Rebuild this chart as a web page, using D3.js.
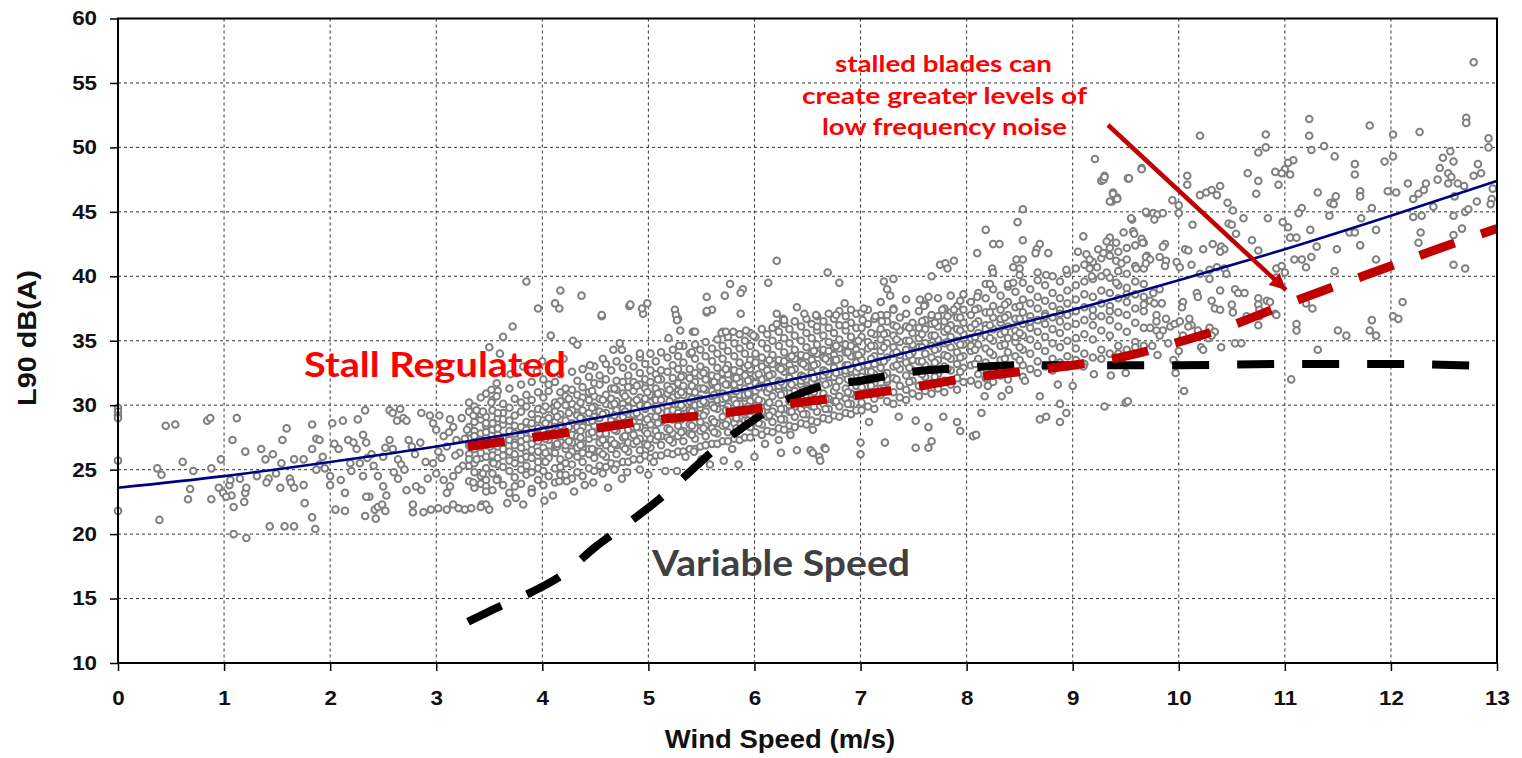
<!DOCTYPE html>
<html><head><meta charset="utf-8">
<script src="https://cdn.jsdelivr.net/npm/d3@7"></script>
<style>html,body{margin:0;padding:0;background:#fff;} svg{display:block;}</style>
</head><body>
<svg id="chart" width="1522" height="758"></svg>
<script>
// ---------- tick values ----------
const windTicks = [0,1,2,3,4,5,6,7,8,9,10,11,12,13];
const levelTicks = [10,15,20,25,30,35,40,45,50,55,60];

// ---------- trend line (solid navy) ----------
const trendWind  = [0,1,2,3,4,5,6,7,8,9,10,11,12,13];
const trendLevel = [23.6,24.5,25.6,26.8,28.2,29.8,31.4,33.2,35.3,37.4,39.7,42.1,44.7,47.4];

// ---------- stall regulated (red dashed) ----------
const stallWind  = [3.3,4,4.5,5,5.5,6,6.5,7,7.5,8,8.5,9,9.5,10,10.5,11,11.5,12,12.5,13];
const stallLevel = [26.8,27.6,28.2,28.8,29.2,29.7,30.3,30.8,31.4,32.1,32.6,33.1,33.8,34.9,36.2,37.8,39.3,40.8,42.3,43.7];

// ---------- variable speed (black dashed) ----------
const variableWind  = [3.3,3.6,3.9,4.2,4.5,4.8,5.1,5.4,5.7,6.0,6.3,6.6,7.0,7.5,8.0,8.5,9,10,11,12,13];
const variableLevel = [13.2,14.4,15.5,16.9,19.0,20.8,22.7,24.9,27.1,28.9,30.4,31.4,31.9,32.6,32.9,33.1,33.1,33.1,33.2,33.2,33.0];

// ---------- measured L90 points [wind speed, level] ----------
const lowWindPoints = [
[0,29.8],[0,29.5],[0,29.2],[0,29.0],[0,25.7],[0,21.8],
[0.45,28.4],[0.54,28.5],[0.37,25.1],[0.41,24.6],[0.39,21.1],[0.61,25.6],[0.66,22.7],[0.68,23.5],[0.71,24.9],[0.84,28.8],[0.87,29.0],[0.88,25.1],[0.88,22.7],[0.97,25.8],
[0.95,23.6],[0.99,23.2],[1.05,23.8],[1.07,23.0],[1.02,22.9],[1.06,24.2],[1.09,22.1],[1.09,20.0],[1.12,29.0],[1.08,27.3],[1.15,24.3],[1.19,22.5],[1.2,23.2],[1.2,26.4],[1.21,19.7],[1.21,23.6],
[1.31,24.5],[1.35,26.6],[1.39,25.8],[1.42,24.3],[1.4,24.0],[1.43,20.6],[1.46,26.2],[1.49,24.7],[1.53,23.6],[1.55,27.3],[1.54,25.5],[1.57,20.6],[1.59,28.2],[1.62,24.3],[1.63,24.0],[1.66,23.6],[1.66,20.6],[1.66,25.8],
[1.75,25.8],[1.76,22.4],[1.75,23.8],[1.83,28.5],[1.83,26.6],[1.83,21.3],[1.86,20.4],[1.87,27.4],[1.9,27.3],[1.9,25.4],[1.87,25.0],[1.93,26.0],[1.95,25.1],[2.0,23.8],[2.0,24.5],
[2.02,28.6],[2.04,27.0],[2.08,26.6],[2.1,24.2],[2.05,21.9],[2.14,21.8],[2.14,23.2],[2.12,28.8],[2.17,27.3],[2.19,25.5],[2.22,27.1],[2.26,28.9],[2.25,26.6],[2.28,25.5],[2.31,24.5],[2.33,29.6],
[2.31,27.7],[2.34,27.1],[2.39,26.2],[2.37,22.9],[2.34,22.9],[2.33,21.4],[2.42,21.9],[2.45,22.1],[2.43,21.2],[2.49,22.3],[2.52,21.8],[2.41,25.3],[2.45,24.5],[2.5,26.0],[2.52,26.7],[2.56,27.3],
[2.59,26.6],[2.64,25.8],[2.67,25.4],[2.5,23.7],[2.53,23.0],[2.64,24.3],[2.56,29.6],[2.59,29.4],[2.63,28.8],[2.66,29.7],[2.69,29.0],[2.72,28.8],[2.74,27.3],[2.77,26.8],[2.8,26.2],[2.85,27.1],
[2.78,22.3],[2.88,21.7],[2.78,21.7],[2.81,23.7],[2.86,23.4],[2.92,24.3],[2.86,29.4],[2.94,29.2],[2.7,25.0],[2.6,24.8],[2.35,25.9],[2.2,24.9],[2.72,23.4],[2.9,25.6],
[2.97,28.6],[3.0,28.1],[3.03,29.2],[3.07,27.6],[3.1,26.8],[3.13,28.9],[3.16,28.3],[3.19,27.3],[3.22,26.3],[3.25,25.3],[2.97,25.5],[3.0,24.7],[3.07,24.2],[3.1,23.2],[3.13,23.7],[3.16,24.5],
[3.21,25.0],[3.29,28.1],[3.32,26.8],[3.35,29.2],[3.38,25.8],[3.41,27.3],[3.44,24.7],[3.47,23.7],[3.47,28.6],[3.51,26.8],[3.54,25.5],[3.57,24.2],[3.58,29.4],[3.1,21.9],[3.21,22.0],[3.27,21.9],
[3.16,22.3],[3.35,24.0],[3.43,22.3],[3.47,22.3],[3.47,23.3],[3.02,26.4],[3.05,25.9],[3.12,27.9],[3.18,26.1],[3.24,29.0],[3.27,27.4],[3.38,29.6],[3.44,29.5],[3.52,31.2],[3.57,31.7],[3.52,30.2],
[3.57,30.7],[3.33,22.0],[3.42,22.1],[3.5,21.9],[3.67,22.4],[2.95,21.9],[3.02,22.0]
];

const midWindPoints = [
[3.85,39.6],[4.17,38.9],[4.37,38.5],[3.96,37.5],[4.12,37.9],[4.16,37.5],[4.56,36.9],[4.82,37.7],[4.95,37.1],[4.99,37.9],[4.94,37.5],[3.72,36.1],[3.63,35.3],[3.5,34.5],[3.6,34.0],
[6.21,41.2],[6.13,39.5],[5.77,39.4],[5.89,39.0],[5.87,38.7],[5.72,38.5],[5.55,38.4],[5.25,37.4],[5.28,36.7],[5.3,35.8],[5.26,37.0],[5.55,37.2],[5.6,37.4],[5.87,37.1],[6.21,37.1],[6.27,36.7],
[6.21,36.3],[5.42,35.7],[5.7,35.7],[5.8,35.7],[5.92,35.8],[5.99,35.4],[5.19,35.2],[5.29,34.6],[5.41,34.1],[4.29,35.0],[4.33,34.7],[4.08,35.4],[4.73,34.8],[4.67,34.3],[4.75,34.3],[4.57,33.6],
[4.92,34.0],[4.45,33.1],[3.7,32.4],[3.82,33.0],[4.0,33.4],[4.2,33.6],[3.95,32.6],
[4.16,24.1],[4.23,24.1],[4.4,23.8],[4.57,24.7],[4.75,24.3],[4.8,24.8],[4.92,25.0],[5.05,25.6],[5.16,24.9],[5.27,24.9],[5.35,26.0],[5.43,26.4],[5.58,25.4],[5.71,25.7],[5.85,25.4],[5.79,26.6],
[6.25,26.3],[6.4,26.5],[6.53,26.5],[6.66,26.7],[6.61,26.0],[6.23,27.3],[6.34,27.7],[4.83,37.8],[4.56,37.0],[5.27,36.6],[5.44,35.7],[5.55,37.3],[5.69,35.6],[5.73,35.7],[6.28,36.6],[6.4,37.6],
[6.47,37.1],[6.58,37.0],[6.77,37.0],[6.85,37.9],[6.86,36.2],[6.59,36.1],[6.69,40.3],[6.8,39.5],
[3.75,22.8],[3.9,23.2],[4.02,22.6],[4.1,23.0],[3.82,22.3],[4.3,23.3],[4.48,24.0],[4.62,23.6],[4.68,25.0],[5.0,24.6],[5.5,25.8],[6.0,26.0],[6.1,27.0]
];

const highWindPoints = [
[6.55,28.1],[6.55,26.3],[6.67,26.6],[6.62,25.7],[7.0,27.1],[7.0,26.2],[7.23,27.1],[7.08,28.7],[7.36,29.1],[7.52,28.8],[7.64,28.3],[7.52,26.7],[7.64,26.7],[7.67,27.2],[7.78,29.1],[7.91,28.7],
[7.94,28.0],[8.06,27.6],[8.09,27.7],[8.14,29.4],[8.17,30.7],[8.33,30.7],[8.69,30.7],[8.88,30.1],[8.75,29.1],[8.69,28.9],[8.94,29.4],[8.88,28.7],[8.86,31.6],[9.0,31.5],[9.3,29.9],[9.5,30.2],
[9.52,30.3],[9.36,32.3],[9.5,32.5],[9.97,32.5],[10.05,31.1],[8.4,31.2],[8.55,31.9],[8.2,31.5],[9.2,32.4],[9.1,33.0],
[8.67,40.3],[8.75,40.1],[8.94,40.5],
[8.53,45.2],[8.48,44.2],[8.18,43.6],[8.53,42.8],[8.25,42.5],[8.31,42.5],[8.69,42.5],[8.66,42.1],[8.77,41.8],[8.65,41.8],[8.1,41.8],[8.47,41.3],[8.53,41.3],[8.24,40.6],[8.25,40.3],[8.44,40.7],
[8.5,40.6],[8.5,40.1],[7.75,40.9],[7.8,41.0],[7.88,41.2],[7.82,40.6],[7.67,40.0],[7.22,39.6],[7.31,39.8],[7.25,39.0],[7.28,38.5],[7.03,37.5],[7.02,36.6],[7.14,36.9],[7.2,36.5],[7.25,37.0],
[7.31,37.4],[7.56,38.2],[7.64,38.4],[7.6,37.7],[7.77,37.4],[7.88,37.4],[7.94,38.1],[8.18,39.4],[8.22,39.4],[8.1,38.4],[8.39,39.4],[8.44,39.5],[9.21,49.1],[9.27,47.4],[9.3,47.8],[9.52,47.6],
[9.65,48.4],[9.38,46.5],[9.42,46.1],[9.37,45.8],[9.7,44.9],[9.56,44.4],[9.1,43.1],[9.35,43.0],[9.32,42.7],[9.41,42.6],[9.48,43.4],[9.57,43.5],[9.35,42.2],[9.05,41.9],[9.13,41.7],[9.16,41.3],
[9.24,42.1],[9.29,41.8],[9.41,41.2],[9.46,41.0],[9.51,41.3],[9.6,40.6],[9.7,41.6],[9.16,40.6],[9.23,40.7],[9.18,40.0],[9.32,40.3],[9.41,39.5],[9.75,34.6],[9.8,33.9],[9.9,34.8],[9.95,33.5],[10.0,34.2]
];

const topWindPoints = [
[12.78,56.6],[11.23,52.2],[11.23,50.9],[11.25,49.8],[11.8,51.7],[12.02,51.0],[12.27,51.2],[12.71,52.3],[12.71,51.9],[12.92,50.7],[10.2,50.9],[10.82,51.0],[10.82,50.0],[10.75,49.6],[11.37,50.1],[11.47,49.3],
[11.94,48.9],[12.02,49.3],[12.49,49.2],[12.56,49.7],[12.59,48.9],[12.46,48.4],[12.44,47.5],[12.54,48.0],[12.57,47.7],[12.54,47.2],[12.63,47.2],[12.78,47.8],[11.66,48.7],[11.66,47.9],[11.08,49.0],[11.03,48.8],
[11.0,48.3],[11.05,47.9],[10.97,48.0],[10.91,48.1],[10.94,47.1],[10.75,47.4],[10.65,48.0],[10.73,46.4],[10.08,47.8],[10.08,47.1],[9.65,48.3],[9.53,47.6],[9.29,47.5],[9.3,47.7],[9.38,46.4],[9.42,46.0],
[9.35,45.8],[10.2,46.3],[10.26,46.5],[10.31,46.7],[10.39,47.0],[10.36,46.3],[10.46,45.7],[10.51,45.1],[9.94,45.9],[10.0,45.5],[10.0,44.9],[11.31,46.5],[11.43,45.7],[11.48,46.2],[11.46,45.6],[11.71,46.6],
[11.71,46.2],[11.97,46.6],[12.05,46.5],[12.16,47.2],[12.21,46.0],[12.26,46.4],[12.31,46.7],[12.33,47.2],[12.81,45.8],[12.95,46.0],[11.16,45.3],[11.13,44.9],[11.42,44.7],[11.82,45.3],[12.21,44.6],[12.29,44.7],
[12.4,45.4],[12.59,44.7],[12.7,45.0],[11.86,43.6],[12.28,43.4],[12.26,42.6],[12.59,43.2],[12.67,43.7],[12.59,40.9],[12.7,40.6],[11.72,44.5],[11.61,43.4],[11.66,43.4],[11.49,42.1],[11.71,42.4],[11.86,41.3],
[11.47,40.4],[11.24,43.6],[11.3,42.3],[11.25,41.5],[11.16,41.3],[11.09,41.3],[11.2,40.7],[11.05,43.0],[11.11,43.0],[10.98,44.2],[11.03,43.8],[10.84,44.5],[10.61,44.5],[10.75,42.0],[10.69,42.8],[10.54,43.3],
[10.47,44.1],[10.5,44.0],[10.4,42.3],[10.43,42.1],[10.32,42.5],[10.39,41.9],[10.23,42.1],[10.13,44.0],[9.87,42.5],[9.85,42.3],[10.06,42.1],[10.09,42.0],[9.76,44.9],[9.8,44.8],[9.69,45.0],[9.85,44.9],
[9.77,44.4],[9.55,44.5],[9.58,43.3],[9.65,42.9],[9.66,42.6],[9.69,41.5],[9.73,41.3],[9.69,41.0],[9.82,41.5],[9.88,41.2],[9.87,40.8],[9.98,41.1],[10.01,40.7],[10.12,40.9],[10.2,40.2],[10.29,40.5],
[10.36,40.7],[10.43,40.6],[10.45,40.2],[10.92,40.6],[10.97,40.8],[11.0,40.3],[10.92,39.9],[12.6,46.2],[12.69,47.0],[12.73,45.2],[12.82,48.7],[12.85,48.0],[12.92,50.0],[12.96,46.8],[12.94,45.6],
[9.82,39.0],[9.76,38.7],[9.73,38.1],[9.77,37.9],[9.84,37.9],[9.79,37.0],[9.79,36.5],[9.73,36.0],[9.88,36.7],[9.92,36.1],[9.96,36.3],[9.85,35.8],[9.79,35.8],[9.82,35.4],[10.04,38.0],[10.03,37.6],
[10.01,36.5],[10.1,36.7],[10.12,36.2],[10.18,35.8],[10.09,36.1],[10.04,35.4],[10.17,38.7],[10.18,38.4],[10.29,39.8],[10.39,38.9],[10.31,38.1],[10.34,37.5],[10.39,37.4],[10.5,37.8],[10.51,37.2],[10.53,39.0],
[10.56,38.7],[10.62,38.7],[10.64,36.9],[10.75,38.3],[10.75,37.8],[10.76,37.4],[10.83,38.1],[10.86,38.0],[10.75,36.2],[10.76,36.9],[10.91,37.1],[10.92,37.0],[11.2,37.9],[11.26,37.5],[11.11,36.3],[11.11,35.8],
[10.21,34.5],[10.23,34.3],[10.4,34.5],[10.53,34.8],[10.59,34.8],[10.29,36.0],[10.34,35.7],[10.28,35.2],[10.31,35.4],[11.31,34.3],[11.5,35.8],[11.58,35.4],[11.8,35.8],[11.86,35.4],[11.82,36.6],[12.02,36.9],
[12.07,36.7],[12.11,38.0],[11.06,32.0]
];

// dense core: each column = [wind speed, level, level, ...]
const coreColumns = [
[3.31,24.1,25.3,26.2,26.9,27.4,28.3,29.5,30.2,25.8,27.9],
[3.36,23.6,24.8,26.6,27.1,28.0,28.7,29.9,25.5,27.6],
[3.42,24.5,25.9,26.3,27.2,27.8,28.9,30.6,23.9,26.8,29.3],
[3.47,25.1,26.0,26.9,27.5,28.4,29.1,24.2,30.9,27.9],
[3.53,23.4,24.7,25.6,26.5,27.3,28.1,28.6,29.6,30.4,26.1],
[3.58,24.3,25.4,26.8,27.7,28.2,29.0,31.1,25.9,27.1],
[3.63,23.8,25.2,26.1,27.0,27.5,28.5,29.4,30.1,26.6,28.9],
[3.69,24.9,25.7,26.4,27.3,28.0,28.8,29.8,31.3,23.2],
[3.74,24.4,25.5,26.2,27.1,27.8,28.4,29.2,30.5,26.9,23.7],
[3.8,23.9,25.0,26.7,27.6,28.3,29.5,30.2,25.8,27.2,31.6],
[3.85,24.6,25.3,26.3,27.4,28.1,28.7,29.9,30.8,26.0],
[3.9,23.5,24.8,25.9,27.0,27.8,28.6,29.3,30.4,26.5,31.8],
[3.96,24.2,25.6,26.4,27.2,28.2,28.9,29.7,31.0,25.1,27.7],
[4.01,23.8,24.9,26.1,27.5,28.0,28.8,29.6,30.6,32.0,26.7],
[4.06,24.5,25.9,26.4,27.3,28.5,29.0,29.7,31.1,31.6,27.8],
[4.12,24.0,25.1,26.3,26.8,27.9,28.7,29.5,30.2,31.8,27.2,28.3],
[4.17,25.2,25.8,27.2,27.6,28.4,29.3,30.3,31.0,32.4,24.6],
[4.22,24.6,25.5,26.6,27.5,28.1,28.8,30.0,30.7,31.3,26.9],
[4.28,25.4,26.4,27.1,28.1,28.6,29.6,30.1,31.2,32.6,24.3,27.7],
[4.33,24.8,26.0,26.7,27.6,28.3,29.2,29.9,30.8,31.9],
[4.38,25.6,26.3,27.0,28.3,28.9,29.6,30.6,31.4,32.8,24.5],
[4.44,25.1,26.2,27.4,27.8,28.7,29.4,30.4,31.0,32.2,26.6],
[4.49,25.9,26.5,27.6,28.4,29.1,29.9,30.7,31.7,33.0,24.9],
[4.54,25.3,26.4,27.1,28.0,29.0,29.5,30.5,31.6,32.3,27.8],
[4.6,26.0,26.9,27.8,28.4,29.4,30.1,30.8,32.0,33.2,25.2],
[4.65,25.5,26.6,27.3,28.3,29.0,30.0,30.5,31.3,32.7,28.8],
[4.7,26.2,26.9,28.0,28.6,29.6,30.3,31.2,31.9,33.4,25.4],
[4.76,25.6,26.8,27.5,28.5,29.1,30.1,30.9,31.8,32.9,29.7],
[4.81,26.4,27.1,28.1,28.8,29.8,30.4,31.4,32.3,33.6,25.6],
[4.86,25.8,27.0,27.7,28.7,29.3,30.2,31.1,31.8,33.0,28.3],
[4.92,26.5,27.4,28.3,29.1,30.0,30.6,31.6,32.5,33.7,25.8],
[4.97,26.1,27.0,28.0,28.7,29.7,30.5,31.3,32.0,33.2,29.9],
[5.02,26.7,27.4,28.5,29.1,30.2,30.8,31.8,32.7,34.0,25.9],
[5.07,26.1,27.3,28.0,29.1,29.7,30.7,31.3,32.4,33.4,30.4],
[5.12,26.9,27.6,28.7,29.4,30.4,31.0,32.0,32.7,34.1,26.1],
[5.18,26.3,27.5,28.2,29.2,29.9,30.9,31.5,32.6,33.7,29.5],
[5.23,27.1,27.8,28.9,29.6,30.6,31.4,32.1,33.1,34.3,26.2],
[5.28,26.4,27.6,28.4,29.4,30.1,31.1,31.7,32.8,33.8,30.8],
[5.33,27.2,28.0,29.1,29.8,30.8,31.5,32.3,33.3,34.6,26.4],
[5.39,26.6,27.8,28.5,29.6,30.3,31.1,32.1,32.8,34.0,29.0],
[5.44,27.4,28.2,29.3,30.0,31.0,31.8,32.5,33.6,34.7,26.6],
[5.49,26.8,28.0,28.7,29.8,30.5,31.3,32.3,33.0,34.3,30.1],
[5.54,27.6,28.4,29.5,30.2,31.2,32.0,32.7,33.8,34.9,26.9],
[5.6,27.0,28.2,28.9,30.0,30.7,31.7,32.3,33.4,34.4,31.1],
[5.65,27.8,28.6,29.7,30.4,31.4,32.2,32.9,34.0,35.1,27.0],
[5.7,27.2,28.4,29.1,30.2,30.9,31.9,32.5,33.6,34.6,30.5],
[5.75,27.9,28.8,29.9,30.6,31.6,32.4,33.1,34.2,35.3,27.2],
[5.81,27.4,28.6,29.3,30.4,31.1,32.1,32.7,33.8,34.8,31.6],
[5.86,28.1,29.0,30.1,30.8,31.8,32.6,33.3,34.4,35.5,27.3],
[5.91,27.5,28.8,29.5,30.6,31.3,32.3,32.9,34.0,35.0,30.8],
[5.96,28.3,29.1,30.3,31.0,32.0,32.8,33.5,34.6,35.6,27.5],
[6.01,27.9,28.7,29.9,30.6,31.7,32.3,33.3,34.0,35.3,31.1],
[6.07,28.5,29.5,30.3,31.4,32.0,33.0,33.7,34.8,35.9,27.7],
[6.12,28.0,29.1,29.9,31.0,31.7,32.7,33.3,34.4,35.5,32.2],
[6.17,28.7,29.5,30.7,31.4,32.4,33.2,33.9,35.0,36.0,27.9],
[6.23,28.2,29.3,30.1,31.2,31.9,32.9,33.5,34.6,35.7,31.5],
[6.28,28.9,29.7,30.9,31.6,32.6,33.4,34.1,35.2,36.3,28.1],
[6.33,28.4,29.5,30.3,31.4,32.1,33.1,33.7,34.8,35.9,32.7],
[6.38,29.1,29.9,31.1,31.8,32.8,33.6,34.3,35.4,36.5,28.3],
[6.44,28.6,29.7,30.5,31.6,32.3,33.3,33.9,35.0,36.1,31.9],
[6.49,29.3,30.1,31.3,32.0,33.0,33.8,34.5,35.6,36.7,28.5],
[6.54,28.8,29.9,30.7,31.8,32.5,33.5,34.1,35.2,36.3,33.0],
[6.59,29.5,30.3,31.5,32.2,33.2,34.0,34.7,35.8,36.9,28.7],
[6.65,29.0,30.1,30.9,32.0,32.7,33.7,34.3,35.4,36.5,32.3],
[6.7,29.7,30.5,31.7,32.4,33.4,34.2,34.9,36.0,37.1,28.9],
[6.75,29.2,30.3,31.1,32.2,32.9,33.9,34.5,35.6,36.7,33.5],
[6.8,29.9,30.7,31.9,32.6,33.6,34.4,35.1,36.2,37.3,29.1],
[6.86,29.4,30.5,31.3,32.4,33.1,34.1,34.7,35.8,36.9,32.7],
[6.91,30.1,30.9,32.1,32.8,33.8,34.6,35.3,36.4,37.4,29.3],
[6.96,29.6,30.7,31.5,32.6,33.3,34.3,34.9,36.0,37.1,33.9],
[7.01,30.2,31.4,32.2,33.5,34.1,35.3,36.0,37.2,33.0,29.6],
[7.07,29.9,31.0,32.6,33.1,34.4,34.9,36.3,37.4,31.9],
[7.13,30.5,31.7,32.4,33.8,34.6,35.5,36.7,29.7,33.2],
[7.19,30.8,31.3,32.9,33.4,34.2,35.1,35.9,37.0,38.0],
[7.25,30.3,31.8,32.5,33.7,34.8,35.6,36.5,32.0],
[7.31,31.0,32.1,33.0,34.0,34.5,35.4,36.2,37.5,30.1],
[7.37,30.6,31.5,32.8,33.6,34.9,35.8,36.8,33.9],
[7.43,31.2,32.3,33.3,34.3,35.0,36.1,37.1,30.4,38.2],
[7.49,30.9,31.9,32.7,34.1,34.7,35.6,36.4,33.5],
[7.55,31.5,32.6,33.4,34.5,35.2,36.0,37.3,30.7],
[7.61,31.1,32.2,33.1,34.0,34.8,35.9,36.6,37.8],
[7.67,31.7,32.8,33.7,34.6,35.4,36.3,37.0,30.9],
[7.73,31.3,32.4,33.5,34.4,35.1,36.1,36.9,38.3],
[7.79,31.9,33.0,33.9,34.8,35.7,36.5,37.5,31.0],
[7.85,31.6,32.7,33.6,34.5,35.3,36.2,37.2,38.5],
[7.91,32.1,33.2,34.1,35.0,35.9,36.8,37.7,31.2],
[7.97,31.8,32.9,33.8,34.7,35.5,36.4,37.4,38.6],
[8.04,31.9,33.1,34.2,35.2,36.0,37.0,38.0,34.6],
[8.11,32.4,33.6,34.7,35.6,36.5,37.5,38.7,31.6],
[8.18,32.1,33.3,34.4,35.4,36.2,37.2,38.3,35.9],
[8.25,32.7,33.9,35.0,35.9,36.8,37.7,39.0,31.8],
[8.32,32.3,33.5,34.6,35.5,36.4,37.4,38.5,36.7],
[8.39,32.9,34.1,35.2,36.1,37.0,38.0,39.2,32.0],
[8.46,32.6,33.8,34.9,35.8,36.7,37.6,38.8,35.3],
[8.53,33.1,34.3,35.4,36.3,37.2,38.2,39.5,32.2],
[8.6,32.8,34.0,35.1,36.0,36.9,37.9,39.0,36.5],
[8.67,33.4,34.6,35.7,36.6,37.5,38.4,39.7,32.5],
[8.74,33.0,34.2,35.3,36.3,37.1,38.1,39.3,36.9],
[8.81,33.6,34.8,35.9,36.8,37.7,38.7,40.0,32.7],
[8.88,33.3,34.5,35.6,36.5,37.4,38.3,39.6,37.1],
[8.95,33.8,35.0,36.1,37.0,37.9,38.9,40.2,33.0],
[9.03,33.5,35.2,36.3,37.3,38.2,39.3,40.6,34.4],
[9.11,34.0,35.5,36.6,37.6,38.6,39.6,40.9,33.2],
[9.19,33.7,35.1,36.2,37.4,38.4,39.8,41.1,36.9],
[9.27,34.3,35.8,36.9,37.9,38.9,40.0,41.4,33.6],
[9.35,34.0,35.4,36.6,37.7,38.7,39.9,41.6,37.3],
[9.43,34.6,36.1,37.2,38.3,39.3,40.4,41.9,34.0],
[9.51,34.3,35.7,37.0,38.0,39.1,40.2,42.2,38.6],
[9.59,34.9,36.4,37.5,38.6,39.6,40.8,42.4,34.5],
[9.67,34.6,36.0,37.3,38.4,39.4,40.6,42.6,37.8]
];

// extra points where the cloud is densest, same column layout
const coreExtraColumns = [
[4.03,26.3,27.4,28.6,29.9,25.6],[4.14,26.8,28.0,29.1,30.0,27.0],[4.25,26.1,27.2,28.3,29.4,30.5],[4.36,26.9,28.0,29.0,30.2,27.5],
[4.47,26.6,27.9,28.8,29.8,31.1],[4.57,27.3,28.3,29.3,30.4,26.2],[4.68,27.0,28.1,29.2,30.1,31.3],[4.78,27.6,28.6,29.5,30.7,26.6],
[4.89,27.2,28.3,29.4,30.4,31.5],[4.99,27.8,28.9,30.0,31.0,26.9],[5.09,27.6,28.6,29.6,30.9,32.0],[5.2,28.1,29.1,30.3,31.2,27.3],
[5.31,27.9,28.9,30.0,31.0,32.2],[5.41,28.4,29.5,30.5,31.5,27.7],[5.52,28.2,29.2,30.3,31.3,32.5],[5.62,28.7,29.8,30.8,31.8,27.9],
[5.73,28.5,29.6,30.6,31.6,32.8],[5.83,29.0,30.1,31.1,32.1,28.2],[5.94,28.8,29.9,30.9,31.9,33.1],[6.04,29.3,30.4,31.4,32.4,28.6],
[6.14,29.2,30.2,31.3,32.3,33.5],[6.25,29.7,30.8,31.8,32.8,28.9],[6.35,29.5,30.6,31.6,32.7,33.8],[6.46,30.1,31.2,32.2,33.2,29.3],
[6.56,29.9,31.0,32.1,33.1,34.2],[6.67,30.5,31.6,32.6,33.6,29.7],[6.77,30.3,31.4,32.5,33.5,34.6],[6.88,31.0,32.0,33.1,34.1,30.1],
[6.98,30.8,31.8,32.9,33.9,35.0],[7.1,31.5,32.6,33.6,34.6,35.6],[7.22,31.3,32.3,33.4,34.5,35.5],[7.34,32.0,33.1,34.1,35.1,36.1],
[7.46,31.8,32.9,33.9,35.0,36.0],[7.58,32.4,33.4,34.5,35.5,36.5],[7.7,32.2,33.3,34.3,35.4,36.4],[7.82,32.8,33.8,34.9,35.9,36.9],
[7.94,32.6,33.7,34.7,35.8,36.8],[8.08,33.2,34.3,35.3,36.3,37.4],[8.22,33.0,34.1,35.2,36.2,37.2],[8.36,33.6,34.7,35.7,36.8,37.8],
[8.5,33.5,34.5,35.6,36.7,37.7]
];

// ---------- drawing ----------
const svg = d3.select('#chart');
const W0 = 118, W1 = 1497, H0 = 18.5, H1 = 663;
const x = d3.scaleLinear().domain([0,13]).range([W0, W1]);
const y = d3.scaleLinear().domain([10,60]).range([H1, H0]);
const numFont = "'Liberation Sans', Arial, Helvetica, sans-serif";
const noteFont = "Lato, 'Open Sans', sans-serif";

// grid
svg.append('g').selectAll('line').data(windTicks.slice(1,-1)).join('line')
  .attr('x1', d => x(d)).attr('x2', d => x(d)).attr('y1', H0).attr('y2', H1)
  .attr('stroke', '#333').attr('stroke-width', 1).attr('stroke-dasharray', '3,3');
svg.append('g').selectAll('line').data(levelTicks.slice(1,-1)).join('line')
  .attr('y1', d => y(d)).attr('y2', d => y(d)).attr('x1', W0).attr('x2', W1)
  .attr('stroke', '#333').attr('stroke-width', 1).attr('stroke-dasharray', '3,3');

// scatter
const expand = cols => cols.flatMap(c => c.slice(1).map(v => [c[0], v]));
const allPoints = expand(coreColumns).concat(expand(coreExtraColumns), lowWindPoints, midWindPoints, highWindPoints, topWindPoints);
svg.append('g').selectAll('circle').data(allPoints).join('circle')
  .attr('cx', d => x(d[0])).attr('cy', d => y(d[1])).attr('r', 3.3)
  .attr('fill', '#fff').attr('stroke', '#808080').attr('stroke-width', 2);

// lines
const zip = (a, b) => a.map((v, i) => [v, b[i]]);
const lineGen = d3.line().x(d => x(d[0])).y(d => y(d[1])).curve(d3.curveMonotoneX);

svg.append('path').datum(zip(trendWind, trendLevel)).attr('d', lineGen)
  .attr('fill', 'none').attr('stroke', '#000080').attr('stroke-width', 2.6);
svg.append('path').datum(zip(variableWind, variableLevel)).attr('d', lineGen)
  .attr('fill', 'none').attr('stroke', '#000').attr('stroke-width', 8)
  .attr('stroke-dasharray', '37,28');
svg.append('path').datum(zip(stallWind, stallLevel)).attr('d', lineGen)
  .attr('fill', 'none').attr('stroke', '#c00000').attr('stroke-width', 9)
  .attr('stroke-dasharray', '37,28');

// frame
svg.append('rect').attr('x', W0).attr('y', H0).attr('width', W1 - W0).attr('height', H1 - H0)
  .attr('fill', 'none').attr('stroke', '#000').attr('stroke-width', 2);

// axes
const xAxis = d3.axisBottom(x).tickValues(windTicks).tickSize(8).tickPadding(20).tickFormat(d3.format('d'));
const gx = svg.append('g').attr('transform', `translate(0,${H1})`).call(xAxis);
gx.select('.domain').remove();
gx.selectAll('line').attr('stroke', '#000').attr('stroke-width', 1.5);
gx.selectAll('text').attr('font-family', numFont).attr('font-weight', 'bold')
  .attr('font-size', 20).attr('fill', '#111').attr('transform', 'scale(1.12,1)');

const yAxis = d3.axisLeft(y).tickValues(levelTicks).tickSize(8).tickPadding(10.7).tickFormat(d3.format('d'));
const gy = svg.append('g').attr('transform', `translate(${W0},0)`).call(yAxis);
gy.select('.domain').remove();
gy.selectAll('line').attr('stroke', '#000').attr('stroke-width', 1.5);
gy.selectAll('text').attr('font-family', numFont).attr('font-weight', 'bold')
  .attr('font-size', 20).attr('fill', '#111').attr('transform', 'scale(1.12,1)');

// axis titles
svg.append('text').attr('transform', 'translate(780,748) scale(1.1,1)')
  .attr('text-anchor', 'middle').attr('font-family', numFont).attr('font-weight', 'bold')
  .attr('font-size', 25).attr('fill', '#111').text('Wind Speed (m/s)');
svg.append('text').attr('transform', 'translate(36,338) rotate(-90) scale(1.15,1)')
  .attr('text-anchor', 'middle').attr('font-family', numFont).attr('font-weight', 'bold')
  .attr('font-size', 25).attr('fill', '#111').text('L90 dB(A)');

// annotations
svg.append('text').attr('x', 304).attr('y', 377).attr('font-family', noteFont).attr('font-weight', 'bold')
  .attr('font-size', 35).attr('fill', '#ff0000').attr('textLength', 262).attr('lengthAdjust', 'spacingAndGlyphs')
  .text('Stall Regulated');
svg.append('text').attr('x', 652).attr('y', 576).attr('font-family', noteFont).attr('font-weight', 'bold')
  .attr('font-size', 36).attr('fill', '#404040').attr('textLength', 258).attr('lengthAdjust', 'spacingAndGlyphs')
  .text('Variable Speed');

const noteLines = [
  {t: 'stalled blades can', x: 835, yb: 72, w: 217},
  {t: 'create greater levels of', x: 802, yb: 103.5, w: 285},
  {t: 'low frequency noise', x: 822, yb: 135, w: 245}
];
svg.append('g').selectAll('text').data(noteLines).join('text')
  .attr('x', d => d.x).attr('y', d => d.yb).attr('font-family', noteFont).attr('font-weight', 'bold')
  .attr('font-size', 23).attr('fill', '#ff0000').attr('textLength', d => d.w).attr('lengthAdjust', 'spacingAndGlyphs')
  .text(d => d.t);

// arrow
const defs = svg.append('defs');
defs.append('marker').attr('id', 'arrowHead').attr('viewBox', '0 0 10 10')
  .attr('refX', 10).attr('refY', 5).attr('markerWidth', 5).attr('markerHeight', 3.6)
  .attr('markerUnits', 'strokeWidth').attr('orient', 'auto')
  .append('path').attr('d', 'M0,0 L10,5 L0,10 Z').attr('fill', '#c00000');
svg.append('line').attr('x1', 1108).attr('y1', 125).attr('x2', 1286).attr('y2', 290)
  .attr('stroke', '#c00000').attr('stroke-width', 4.5).attr('marker-end', 'url(#arrowHead)');
</script>
</body></html>
